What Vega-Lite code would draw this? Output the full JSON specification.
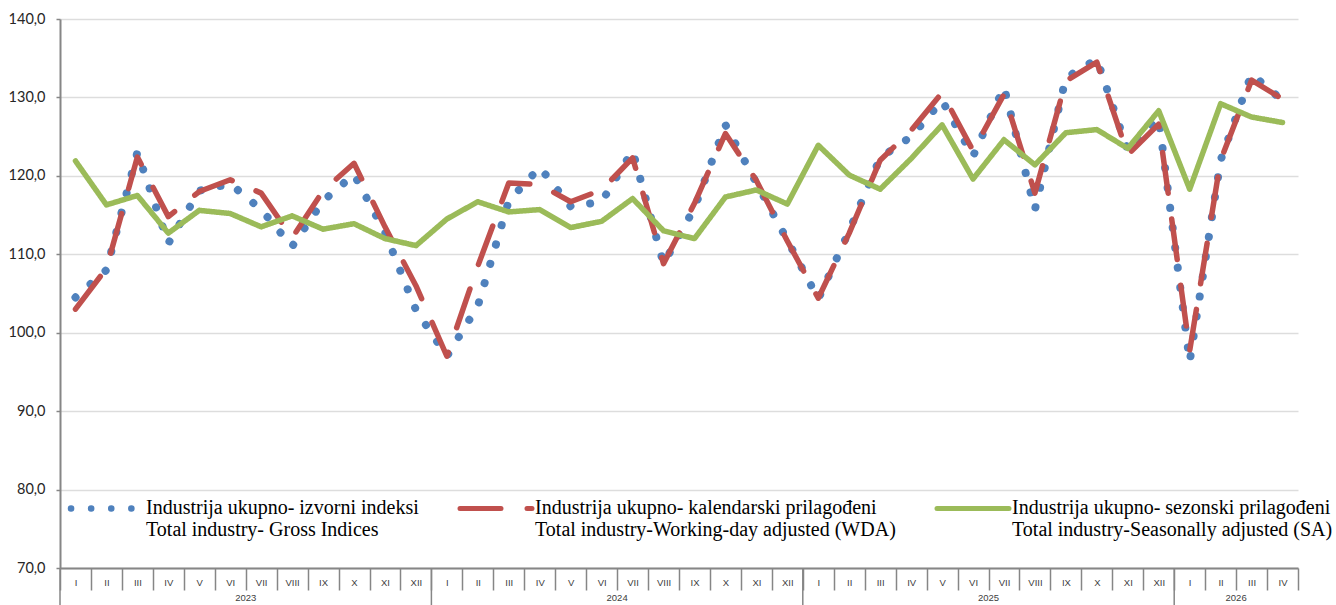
{
  "$schema": "https://vega.github.io/schema/vega-lite/v6.json",
  "width": 1238,
  "height": 549,
  "autosize": "none",
  "padding": {"left": 60, "top": 19, "right": 38, "bottom": 37},
  "background": "white",
  "config": {"view": {"stroke": null}, "font": "Lato"},
  "data": {
    "values": [
      {"year": "2023", "month": "I", "gross": 104.5, "wda": 103.0, "sa": 121.9},
      {"year": "2023", "month": "II", "gross": 108.0, "wda": 108.2, "sa": 116.3},
      {"year": "2023", "month": "III", "gross": 123.0, "wda": 122.4, "sa": 117.5},
      {"year": "2023", "month": "IV", "gross": 111.4, "wda": 114.8, "sa": 112.7},
      {"year": "2023", "month": "V", "gross": 118.1, "wda": 118.0, "sa": 115.6},
      {"year": "2023", "month": "VI", "gross": 119.0, "wda": 119.5, "sa": 115.2},
      {"year": "2023", "month": "VII", "gross": 115.7, "wda": 117.8, "sa": 113.5},
      {"year": "2023", "month": "VIII", "gross": 111.0, "wda": 112.1, "sa": 114.9},
      {"year": "2023", "month": "IX", "gross": 116.8, "wda": 118.1, "sa": 113.2},
      {"year": "2023", "month": "X", "gross": 120.2, "wda": 121.6, "sa": 113.9},
      {"year": "2023", "month": "XI", "gross": 112.8, "wda": 113.5, "sa": 112.0},
      {"year": "2023", "month": "XII", "gross": 102.9, "wda": 106.0, "sa": 111.1},
      {"year": "2024", "month": "I", "gross": 97.0, "wda": 97.0, "sa": 114.5},
      {"year": "2024", "month": "II", "gross": 103.4, "wda": 108.5, "sa": 116.7},
      {"year": "2024", "month": "III", "gross": 116.8, "wda": 119.1, "sa": 115.4},
      {"year": "2024", "month": "IV", "gross": 121.1, "wda": 118.9, "sa": 115.7},
      {"year": "2024", "month": "V", "gross": 116.1, "wda": 116.7, "sa": 113.4},
      {"year": "2024", "month": "VI", "gross": 116.7, "wda": 118.2, "sa": 114.2},
      {"year": "2024", "month": "VII", "gross": 123.2, "wda": 122.3, "sa": 117.1},
      {"year": "2024", "month": "VIII", "gross": 108.8, "wda": 108.8, "sa": 113.0},
      {"year": "2024", "month": "IX", "gross": 115.9, "wda": 116.5, "sa": 112.0},
      {"year": "2024", "month": "X", "gross": 126.5, "wda": 125.4, "sa": 117.3},
      {"year": "2024", "month": "XI", "gross": 119.1, "wda": 119.4, "sa": 118.2},
      {"year": "2024", "month": "XII", "gross": 111.8, "wda": 111.7, "sa": 116.4},
      {"year": "2025", "month": "I", "gross": 104.3, "wda": 104.4, "sa": 123.9},
      {"year": "2025", "month": "II", "gross": 113.0, "wda": 112.7, "sa": 120.1},
      {"year": "2025", "month": "III", "gross": 122.3, "wda": 122.0, "sa": 118.3},
      {"year": "2025", "month": "IV", "gross": 125.0, "wda": 125.8, "sa": 122.2},
      {"year": "2025", "month": "V", "gross": 129.6, "wda": 130.6, "sa": 126.5},
      {"year": "2025", "month": "VI", "gross": 122.5, "wda": 123.2, "sa": 119.6},
      {"year": "2025", "month": "VII", "gross": 131.3, "wda": 130.4, "sa": 124.6},
      {"year": "2025", "month": "VIII", "gross": 115.7, "wda": 117.8, "sa": 121.4},
      {"year": "2025", "month": "IX", "gross": 132.5, "wda": 132.1, "sa": 125.5},
      {"year": "2025", "month": "X", "gross": 134.9, "wda": 134.5, "sa": 125.9},
      {"year": "2025", "month": "XI", "gross": 123.2, "wda": 122.7, "sa": 123.5},
      {"year": "2025", "month": "XII", "gross": 127.4, "wda": 126.6, "sa": 128.3},
      {"year": "2026", "month": "I", "gross": 96.3, "wda": 97.7, "sa": 118.3},
      {"year": "2026", "month": "II", "gross": 122.0, "wda": 122.0, "sa": 129.2},
      {"year": "2026", "month": "III", "gross": 133.0, "wda": 132.2, "sa": 127.5},
      {"year": "2026", "month": "IV", "gross": 129.6, "wda": 129.8, "sa": 126.8}
    ]
  },
  "transform": [{"calculate": "datum.year + '-' + datum.month", "as": "key"}],
  "encoding": {
    "x": {
      "field": "key", "type": "ordinal", "sort": null,
      "scale": {"type": "band", "paddingInner": 0, "paddingOuter": 0},
      "axis": {
        "title": null, "tickBand": "extent", "tickSize": 22, "tickColor": "#868686", "tickWidth": 1.5,
        "domainColor": "#868686", "domainWidth": 2, "grid": false,
        "labelExpr": "datum.label ? slice(datum.label, 5) : ''", "labelFont": "Liberation Sans", "labelFontSize": 9.5,
        "labelColor": "#404040", "labelAngle": 0, "labelPadding": -13, "labelBaseline": "top"
      }
    }
  },
  "layer": [
    {
      "mark": {"type": "line", "strokeCap": "round", "strokeJoin": "round", "strokeWidth": 8},
      "encoding": {
        "x": {"field": "key", "type": "ordinal", "sort": null, "bandPosition": 0.5},
        "y": {
          "field": "gross", "type": "quantitative",
          "scale": {"domain": [70, 140], "nice": false, "zero": false},
          "axis": {
            "title": null, "values": [70, 80, 90, 100, 110, 120, 130, 140],
            "labelExpr": "replace(format(datum.value, '.1f'), '.', ',')",
            "labelFont": "Lato", "labelFontSize": 14.5, "labelColor": "#262626",
            "tickSize": 4, "tickColor": "#868686", "tickWidth": 1.5, "domainColor": "#868686", "domainWidth": 2,
            "gridColor": "#DDDDDD", "gridWidth": 1.5, "labelPadding": 11
          }
        },
        "color": {
          "datum": "gross",
          "scale": {"domain": ["gross", "wda", "sa"], "range": ["#4F81BD", "#C0504D", "#9BBB59"]},
          "legend": {
            "title": null, "orient": "none", "legendX": 8, "legendY": 479.3, "direction": "horizontal", "padding": 0,
            "columnPadding": 31, "symbolType": "stroke", "symbolSize": 5184, "symbolOffset": 29,
            "labelOffset": 29, "labelFont": "Liberation Serif", "labelFontSize": 20, "labelColor": "#000000", "labelLimit": 1000,
            "labelExpr": "datum.value === 'gross' ? 'Industrija ukupno- izvorni indeksi\\nTotal industry- Gross Indices' : datum.value === 'wda' ? 'Industrija ukupno- kalendarski prilagođeni\\nTotal industry-Working-day adjusted (WDA)' : 'Industrija ukupno- sezonski prilagođeni\\nTotal industry-Seasonally adjusted (SA)'",
            "encode": {
              "labels": {"update": {"lineBreak": {"value": "\n"}, "lineHeight": {"value": 21.7}}},
              "symbols": {"update": {
                "strokeCap": {"value": "round"},
                "strokeWidth": {"signal": "datum.value === 'gross' ? 6.5 : 5"}
              }}
            }
          }
        },
        "strokeDash": {
          "datum": "gross",
          "scale": {"domain": ["gross", "wda", "sa"], "range": [[0.1, 20], [41, 26], [1, 0]]},
          "legend": {
            "title": null, "orient": "none", "legendX": 8, "legendY": 479.3, "direction": "horizontal", "padding": 0,
            "columnPadding": 31, "symbolType": "stroke", "symbolSize": 5184, "symbolOffset": 29,
            "labelOffset": 29, "labelFont": "Liberation Serif", "labelFontSize": 20, "labelColor": "#000000", "labelLimit": 1000,
            "labelExpr": "datum.value === 'gross' ? 'Industrija ukupno- izvorni indeksi\\nTotal industry- Gross Indices' : datum.value === 'wda' ? 'Industrija ukupno- kalendarski prilagođeni\\nTotal industry-Working-day adjusted (WDA)' : 'Industrija ukupno- sezonski prilagođeni\\nTotal industry-Seasonally adjusted (SA)'",
            "encode": {
              "labels": {"update": {"lineBreak": {"value": "\n"}, "lineHeight": {"value": 21.7}}},
              "symbols": {"update": {
                "strokeCap": {"value": "round"},
                "strokeWidth": {"signal": "datum.value === 'gross' ? 6.5 : 5"}
              }}
            }
          }
        }
      }
    },
    {
      "mark": {"type": "line", "strokeCap": "round", "strokeJoin": "round", "strokeWidth": 5.5},
      "encoding": {
        "x": {"field": "key", "type": "ordinal", "sort": null, "bandPosition": 0.5},
        "y": {"field": "wda", "type": "quantitative"},
        "color": {"datum": "wda"},
        "strokeDash": {"datum": "wda"}
      }
    },
    {
      "mark": {"type": "line", "strokeCap": "round", "strokeJoin": "round", "strokeWidth": 5.5},
      "encoding": {
        "x": {"field": "key", "type": "ordinal", "sort": null, "bandPosition": 0.5},
        "y": {"field": "sa", "type": "quantitative"},
        "color": {"datum": "sa"},
        "strokeDash": {"datum": "sa"}
      }
    },
    {
      "transform": [{"filter": "datum.month === 'I'"}],
      "mark": {"type": "rule", "color": "#868686", "strokeWidth": 1.5},
      "encoding": {
        "x": {"field": "key", "type": "ordinal", "sort": null, "bandPosition": 0},
        "y": {"datum": 70},
        "y2": {"datum": 65.2}
      }
    },
    {
      "transform": [{"filter": "datum.month === 'VII' || (datum.year === '2026' && datum.month === 'III')"}],
      "mark": {"type": "text", "font": "Liberation Sans", "fontSize": 9.5, "color": "#404040", "baseline": "middle", "dy": 30},
      "encoding": {
        "x": {"field": "key", "type": "ordinal", "sort": null, "bandPosition": 0},
        "y": {"datum": 70},
        "text": {"field": "year"}
      }
    }
  ]
}
